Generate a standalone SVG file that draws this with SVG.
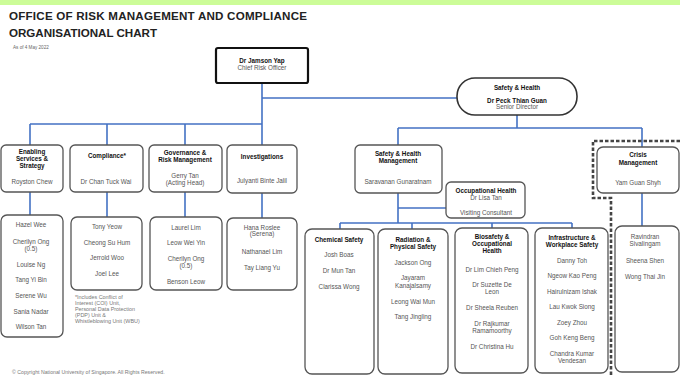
<svg xmlns="http://www.w3.org/2000/svg" width="680" height="376" viewBox="0 0 680 376">
<style>
text{font-family:"Liberation Sans",Arial,sans-serif;text-anchor:middle}
.h{font-size:6.3px;font-weight:bold;fill:#111}
.n{font-size:6.3px;fill:#555}
.box{fill:#fff;stroke:#555;stroke-width:1.3}
.ln{fill:none;stroke:#4472c4;stroke-width:1.6}
.note{font-size:5.4px;fill:#777;text-anchor:start}
</style>
<rect x="0" y="0" width="680" height="376" fill="#fff"/>
<rect x="0" y="0" width="680" height="5" fill="#ccfc98"/>
<text x="9" y="20" style="font-size:11.6px;font-weight:bold;fill:#222;text-anchor:start" textLength="298">OFFICE OF RISK MANAGEMENT AND COMPLIANCE</text>
<text x="9" y="37" style="font-size:11.6px;font-weight:bold;fill:#222;text-anchor:start" textLength="148">ORGANISATIONAL CHART</text>
<text x="13" y="49" style="font-size:4.6px;fill:#666;text-anchor:start">As of 4 May 2022</text>

<g id="connectors">
<path class="ln" d="M262 83V145M262 98H457M30 124H262M30 124V145M107 124V145M185 124V145"/>
<path class="ln" d="M30 192V215M107 192V217M185 192V217M262 193V218"/>
<path class="ln" d="M517 115V128M398 128H642M398 128V145M642 128V147M642 193V226"/>
<path class="ln" d="M398 193V223M398 208H446M340 223H572M340 223V229M412 223V229M492 223V228M572 223V228"/>
<path d="M680 141H593V198H611V376" fill="none" stroke="#444" stroke-width="2.6" stroke-dasharray="3.5,2"/>
</g>

<g id="cro">
<rect x="216" y="48" width="92" height="35" rx="2" fill="#fff" stroke="#111" stroke-width="2.2"/>
<text class="h" x="262" y="63">Dr Jamson Yap</text>
<text class="n" x="262" y="70">Chief Risk Officer</text>
</g>

<g id="safety-health">
<rect x="457" y="78" width="120" height="37" rx="18" fill="#fff" stroke="#333" stroke-width="1.6"/>
<text class="h" x="517" y="90">Safety &amp; Health</text>
<text class="h" x="517" y="103">Dr Peck Thian Guan</text>
<text class="n" x="517" y="109">Senior Director</text>
</g>

<g id="enabling">
<rect class="box" x="1" y="145" width="62" height="47" rx="5"/>
<text class="h" x="32" y="154">Enabling</text>
<text class="h" x="32" y="161">Services &amp;</text>
<text class="h" x="32" y="168">Strategy</text>
<text class="n" x="32" y="184">Royston Chew</text>
</g>
<g id="compliance">
<rect class="box" x="70" y="145" width="73" height="47" rx="5"/>
<text class="h" x="107" y="158">Compliance*</text>
<text class="n" x="106" y="184">Dr Chan Tuck Wai</text>
</g>
<g id="governance">
<rect class="box" x="149" y="145" width="73" height="47" rx="5"/>
<text class="h" x="185" y="155">Governance &amp;</text>
<text class="h" x="185" y="162">Risk Management</text>
<text class="n" x="185" y="178">Gerry Tan</text>
<text class="n" x="185" y="185">(Acting Head)</text>
</g>
<g id="investigations">
<rect class="box" x="227" y="145" width="70" height="48" rx="5"/>
<text class="h" x="262" y="159">Investigations</text>
<text class="n" x="262" y="183">Julyanti Binte Jalil</text>
</g>
<g id="shm">
<rect class="box" x="355" y="145" width="87" height="48" rx="5"/>
<text class="h" x="398" y="156">Safety &amp; Health</text>
<text class="h" x="398" y="163">Management</text>
<text class="n" x="398" y="184">Saravanan Gunaratnam</text>
</g>
<g id="occ-health">
<rect class="box" x="446" y="182" width="79" height="36" rx="5"/>
<text class="h" x="486" y="193">Occupational Health</text>
<text class="n" x="486" y="200">Dr Lisa Tan</text>
<text class="n" x="486" y="215">Visiting Consultant</text>
</g>
<g id="crisis">
<rect class="box" x="597" y="147" width="82" height="46" rx="6"/>
<text class="h" x="638" y="157">Crisis</text>
<text class="h" x="638" y="165">Management</text>
<text class="n" x="638" y="185">Yam Guan Shyh</text>
</g>

<g id="enabling-team">
<rect class="box" x="1" y="215" width="62" height="122" rx="6"/>
<text class="n" x="31" y="227">Hazel Wee</text>
<text class="n" x="31" y="244">Cherilyn Ong</text>
<text class="n" x="31" y="251">(0.5)</text>
<text class="n" x="31" y="267">Louise Ng</text>
<text class="n" x="31" y="282">Tang Yi Bin</text>
<text class="n" x="31" y="298">Serene Wu</text>
<text class="n" x="31" y="314">Sania Nadar</text>
<text class="n" x="31" y="329">Wilson Tan</text>
</g>
<g id="compliance-team">
<rect class="box" x="71" y="217" width="71" height="73" rx="6"/>
<text class="n" x="107" y="229">Tony Yeow</text>
<text class="n" x="107" y="245">Cheong Su Hum</text>
<text class="n" x="107" y="260">Jerrold Woo</text>
<text class="n" x="107" y="276">Joel Lee</text>
</g>
<g id="compliance-note">
<text class="note" x="75" y="299">*Includes Conflict of</text>
<text class="note" x="75" y="305">Interest (COI) Unit,</text>
<text class="note" x="75" y="311">Personal Data Protection</text>
<text class="note" x="75" y="317">(PDP) Unit &amp;</text>
<text class="note" x="75" y="323">Whistleblowing Unit (WBU)</text>
</g>
<g id="governance-team">
<rect class="box" x="150" y="217" width="72" height="73" rx="6"/>
<text class="n" x="186" y="230">Laurel Lim</text>
<text class="n" x="186" y="245">Leow Wei Yin</text>
<text class="n" x="186" y="261">Cherilyn Ong</text>
<text class="n" x="186" y="268">(0.5)</text>
<text class="n" x="186" y="284">Benson Leow</text>
</g>
<g id="investigations-team">
<rect class="box" x="227" y="218" width="70" height="72" rx="6"/>
<text class="n" x="262" y="230">Hana Roslee</text>
<text class="n" x="262" y="236">(Serena)</text>
<text class="n" x="262" y="254">Nathanael Lim</text>
<text class="n" x="262" y="270">Tay Liang Yu</text>
</g>
<g id="chemical">
<rect class="box" x="305" y="229" width="69" height="145" rx="7"/>
<text class="h" x="339" y="242">Chemical Safety</text>
<text class="n" x="339" y="257">Josh Boas</text>
<text class="n" x="339" y="273">Dr Mun Tan</text>
<text class="n" x="339" y="289">Clarissa Wong</text>
</g>
<g id="radiation">
<rect class="box" x="378" y="229" width="70" height="145" rx="7"/>
<text class="h" x="413" y="242">Radiation &amp;</text>
<text class="h" x="413" y="249">Physical Safety</text>
<text class="n" x="413" y="265">Jackson Ong</text>
<text class="n" x="413" y="280">Jayaram</text>
<text class="n" x="413" y="288">Kanajalsamy</text>
<text class="n" x="413" y="304">Leong Wai Mun</text>
<text class="n" x="413" y="319">Tang Jingling</text>
</g>
<g id="biosafety">
<rect class="box" x="455" y="228" width="73" height="145" rx="7"/>
<text class="h" x="492" y="239">Biosafety &amp;</text>
<text class="h" x="492" y="246">Occupational</text>
<text class="h" x="492" y="253">Health</text>
<text class="n" x="492" y="272">Dr Lim Chieh Peng</text>
<text class="n" x="492" y="287">Dr Suzette De</text>
<text class="n" x="492" y="294">Leon</text>
<text class="n" x="492" y="310">Dr Sheela Reuben</text>
<text class="n" x="492" y="326">Dr Rajkumar</text>
<text class="n" x="492" y="333">Ramamoorthy</text>
<text class="n" x="492" y="349">Dr Christina Hu</text>
</g>
<g id="infrastructure">
<rect class="box" x="535" y="228" width="73" height="145" rx="7"/>
<text class="h" x="572" y="240">Infrastructure &amp;</text>
<text class="h" x="572" y="247">Workplace Safety</text>
<text class="n" x="572" y="263">Danny Toh</text>
<text class="n" x="572" y="278">Ngeow Kao Peng</text>
<text class="n" x="572" y="294">Hairulnizam Ishak</text>
<text class="n" x="572" y="309">Lau Kwok Siong</text>
<text class="n" x="572" y="325">Zoey Zhou</text>
<text class="n" x="572" y="340">Goh Keng Beng</text>
<text class="n" x="572" y="356">Chandra Kumar</text>
<text class="n" x="572" y="363">Vendesan</text>
</g>
<g id="crisis-team">
<rect class="box" x="615" y="226" width="64" height="146" rx="7"/>
<text class="n" x="645" y="239">Ravindran</text>
<text class="n" x="645" y="246">Sivalingam</text>
<text class="n" x="645" y="263">Sheena Shen</text>
<text class="n" x="645" y="279">Wong Thai Jin</text>
</g>

<text x="12" y="374" style="font-size:5.2px;fill:#777;text-anchor:start">© Copyright National University of Singapore. All Rights Reserved.</text>
</svg>
